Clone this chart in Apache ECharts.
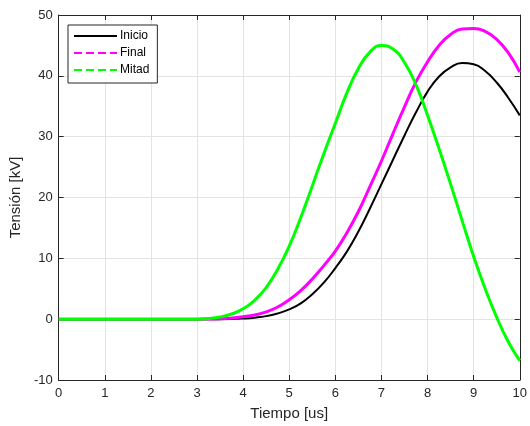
<!DOCTYPE html>
<html>
<head>
<meta charset="utf-8">
<script src="https://cdn.jsdelivr.net/npm/echarts@6/dist/echarts.min.js"></script>
<style>html,body{margin:0;padding:0;background:#fff}#c{width:530px;height:426px}</style>
</head>
<body>
<div id="c"></div>
<script>
const xValues = [0,0.25,0.5,0.75,1,1.25,1.5,1.75,2,2.25,2.5,2.75,3,3.25,3.5,3.75,4,4.25,4.5,4.75,5,5.25,5.5,5.75,6,6.25,6.5,6.75,7,7.25,7.5,7.75,8,8.25,8.5,8.75,9,9.25,9.5,9.75,10];
const inicio = [0,0,0,0,0,0,0,0,0,0,0,0,0,0,0,0.02,0.1,0.25,0.5,0.95,1.6,2.6,4.1,6.0,8.4,11.1,14.4,18.2,22.2,26.2,30.2,34.0,37.4,39.9,41.4,42.1,41.9,40.8,38.9,36.4,33.5];
const finalV = [0,0,0,0,0,0,0,0,0,0,0,0,0,0.02,0.06,0.2,0.4,0.7,1.2,2.0,3.2,4.7,6.6,8.8,11.2,14.2,17.7,21.8,26,30.5,34.9,39,42.3,45.0,46.8,47.7,47.8,47.3,46.0,43.8,40.6];
const mitad = [0,0,0,0,0,0,0,0,0,0,0,0,0,0.1,0.35,0.85,1.7,3.1,5.2,8.2,12,16.7,21.9,27.2,32.2,37.2,41.2,43.9,45,44.4,42.2,38.5,33.5,28,22.2,16.2,10.3,5,0.3,-3.7,-6.8];
const seriesNames = ['Inicio','Final','Mitad'];
const xTicks = {min:0, max:10, interval:1};
const yTicks = {min:-10, max:50, interval:10};

function pairs(ys){ return xValues.map((x,i)=>[x,ys[i]]); }

const axisColor = '#262626';
const font = 'Liberation Sans, Arial, Helvetica, sans-serif';
const chart = echarts.init(document.getElementById('c'));
const baseX = {type:'value', min:xTicks.min, max:xTicks.max, interval:xTicks.interval};
const baseY = {type:'value', min:yTicks.min, max:yTicks.max, interval:yTicks.interval};
const noSym = {color:'rgba(0,0,0,0)', opacity:0, borderWidth:0};
chart.setOption({
  animation:false,
  backgroundColor:'#fff',
  grid:{left:57, right:8, top:15, bottom:46, containLabel:false},
  legend:{
    show:true,
    orient:'vertical', left:68, top:25,
    itemWidth:43, itemHeight:10, itemGap:5,
    padding:[5,8,7,5],
    borderColor:axisColor, borderWidth:1, backgroundColor:'#fff',
    textStyle:{fontFamily:font, fontSize:12, color:'#000', padding:[0,0,0,-2]},
    data:[
      {name:'Inicio', itemStyle:noSym, lineStyle:{type:'solid', width:2}},
      {name:'Final', itemStyle:noSym, lineStyle:{type:'dashed', width:2}},
      {name:'Mitad', itemStyle:noSym, lineStyle:{type:'dashed', width:2}}
    ]
  },
  xAxis:[
    Object.assign({}, baseX, {
      position:'bottom',
      name:'Tiempo [us]', nameLocation:'middle', nameGap:26,
      nameTextStyle:{fontFamily:font, fontSize:15, color:axisColor},
      axisLine:{show:true, onZero:false, lineStyle:{color:axisColor, width:1}},
      axisTick:{show:true, inside:true, length:5, lineStyle:{color:axisColor}},
      axisLabel:{fontFamily:font, fontSize:13, color:axisColor, margin:7},
      splitLine:{show:true, lineStyle:{color:'#e3e3e3', width:1}}
    }),
    Object.assign({}, baseX, {
      position:'top',
      axisLine:{show:true, onZero:false, lineStyle:{color:axisColor, width:1}},
      axisTick:{show:true, inside:true, length:5, lineStyle:{color:axisColor}},
      axisLabel:{show:false}, splitLine:{show:false}
    })
  ],
  yAxis:[
    Object.assign({}, baseY, {
      position:'left',
      name:'Tensión [kV]', nameLocation:'middle', nameGap:30, nameRotate:90,
      nameTextStyle:{fontFamily:font, fontSize:15, color:axisColor},
      axisLine:{show:true, onZero:false, lineStyle:{color:axisColor, width:1}},
      axisTick:{show:true, inside:true, length:5, lineStyle:{color:axisColor}},
      axisLabel:{fontFamily:font, fontSize:13, color:axisColor, margin:6},
      splitLine:{show:true, lineStyle:{color:'#e3e3e3', width:1}}
    }),
    Object.assign({}, baseY, {
      position:'right',
      axisLine:{show:true, onZero:false, lineStyle:{color:axisColor, width:1}},
      axisTick:{show:true, inside:true, length:5, lineStyle:{color:axisColor}},
      axisLabel:{show:false}, splitLine:{show:false}
    })
  ],
  series:[
    {name:seriesNames[0], type:'line', data:pairs(inicio), showSymbol:false, symbol:'none', smooth:true,
     itemStyle:{color:'#000000'}, lineStyle:{color:'#000000', width:2}, z:3},
    {name:seriesNames[1], type:'line', data:pairs(finalV), showSymbol:false, symbol:'none', smooth:true,
     itemStyle:{color:'#ff00ff'}, lineStyle:{color:'#ff00ff', width:3}, z:4},
    {name:seriesNames[2], type:'line', data:pairs(mitad), showSymbol:false, symbol:'none', smooth:true,
     itemStyle:{color:'#00ff00'}, lineStyle:{color:'#00ff00', width:3}, z:5}
  ]
});
</script>
</body>
</html>
